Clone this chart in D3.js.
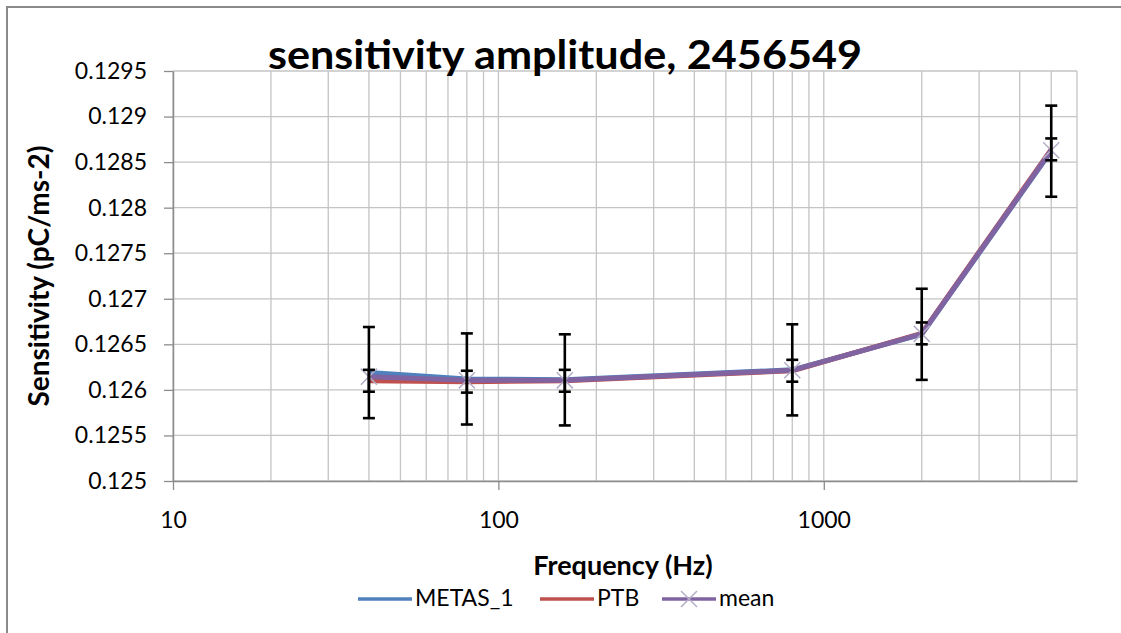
<!DOCTYPE html>
<html>
<head>
<meta charset="utf-8">
<script src="https://cdn.jsdelivr.net/npm/d3@7/dist/d3.min.js"></script>
<style>
  body { margin: 0; background: #fff; }
  svg text { font-family: Lato, "Open Sans", sans-serif; fill: #000; }
</style>
</head>
<body>
<div id="main"></div>
<script>
// data
var freqs = [40, 80, 160, 800, 2000, 5000];
var metas = [0.12619, 0.12612, 0.12611, 0.12622, 0.12661, 0.12862];
var ptb = [0.12610, 0.12609, 0.12610, 0.12621, 0.12662, 0.12864];
var mean = [0.126145, 0.126105, 0.126105, 0.126215, 0.126615, 0.12863];
var metasErr = [0.0005, 0.0005, 0.0005, 0.0005, 0.0005, 0.0005];
var ptbErr = [0.00012, 0.00012, 0.00012, 0.00012, 0.00012, 0.00012];
var yTicks = [0.125, 0.1255, 0.126, 0.1265, 0.127, 0.1275, 0.128, 0.1285, 0.129, 0.1295];
var xTicks = [10, 100, 1000];
var seriesNames = ["METAS_1", "PTB", "mean"];

var colors = ["#4F81BD", "#C0504D", "#8064A2"];

var W = 1121, H = 633;
var margin = { top: 71, right: 44, bottom: 152, left: 173 };

var x = d3.scaleLog()
  .domain([10, 6000])
  .range([margin.left, W - margin.right]);

var y = d3.scaleLinear()
  .domain([0.125, 0.1295])
  .range([H - margin.bottom, margin.top]);

var svg = d3.select("#main").append("svg")
  .attr("width", W)
  .attr("height", H);

// outer chart frame (runs off the right / bottom of the picture)
svg.append("rect")
  .attr("x", 7).attr("y", 7)
  .attr("width", W + 20).attr("height", H + 20)
  .attr("fill", "none")
  .attr("stroke", "#8a8a8a")
  .attr("stroke-width", 2);

// grid
svg.append("g")
  .selectAll("line")
  .data(x.ticks())
  .enter().append("line")
  .attr("x1", function (d) { return x(d); })
  .attr("x2", function (d) { return x(d); })
  .attr("y1", y(0.125))
  .attr("y2", y(0.1295))
  .attr("stroke", "#c4c4c4")
  .attr("stroke-width", 1.3);

svg.append("g")
  .selectAll("line")
  .data(yTicks)
  .enter().append("line")
  .attr("x1", x(10))
  .attr("x2", x(6000))
  .attr("y1", function (d) { return y(d); })
  .attr("y2", function (d) { return y(d); })
  .attr("stroke", "#c4c4c4")
  .attr("stroke-width", 1.3);

// axes
var yAxis = svg.append("g")
  .attr("transform", "translate(" + margin.left + ",0)")
  .call(d3.axisLeft(y)
    .tickValues(yTicks)
    .tickSize(9)
    .tickSizeOuter(0)
    .tickPadding(17)
    .tickFormat(function (d) { return String(d); }));

var xAxis = svg.append("g")
  .attr("transform", "translate(0," + y(0.125) + ")")
  .call(d3.axisBottom(x)
    .tickValues(xTicks)
    .tickSize(9)
    .tickSizeOuter(0)
    .tickPadding(22)
    .tickFormat(function (d) { return String(d); }));

[yAxis, xAxis].forEach(function (a) {
  a.select(".domain").attr("stroke", "#8c8c8c").attr("stroke-width", 1.5);
  a.selectAll(".tick line").attr("stroke", "#8c8c8c").attr("stroke-width", 1.3);
  a.selectAll(".tick text").style("font-size", "23px");
});

// lines
var line = d3.line()
  .x(function (d) { return x(d[0]); })
  .y(function (d) { return y(d[1]); });

[metas, ptb, mean].forEach(function (s, i) {
  svg.append("path")
    .datum(freqs.map(function (f, j) { return [f, s[j]]; }))
    .attr("fill", "none")
    .attr("stroke", colors[i])
    .attr("stroke-width", 5)
    .attr("stroke-linejoin", "round")
    .attr("d", line);
});

// mean markers
svg.append("g")
  .selectAll("path")
  .data(freqs)
  .enter().append("path")
  .attr("transform", function (d, j) { return "translate(" + x(d) + "," + y(mean[j]) + ")"; })
  .attr("d", d3.symbol(d3.symbolX, 170))
  .attr("fill", "none")
  .attr("stroke", "#b4aec8")
  .attr("stroke-width", 1.5);

// error bars, METAS_1 wide and PTB narrow
function errBars(vals, errs) {
  var g = svg.append("g").attr("stroke", "#000").attr("stroke-width", 2.6);
  freqs.forEach(function (f, j) {
    var cx = x(f), lo = y(vals[j] - errs[j]), hi = y(vals[j] + errs[j]);
    g.append("line").attr("x1", cx).attr("x2", cx).attr("y1", lo).attr("y2", hi);
    g.append("line").attr("x1", cx - 6).attr("x2", cx + 6).attr("y1", lo).attr("y2", lo);
    g.append("line").attr("x1", cx - 6).attr("x2", cx + 6).attr("y1", hi).attr("y2", hi);
  });
}
errBars(metas, metasErr);
errBars(ptb, ptbErr);

// titles
svg.append("text")
  .attr("x", 565)
  .attr("y", 69)
  .attr("text-anchor", "middle")
  .attr("textLength", 594)
  .attr("lengthAdjust", "spacingAndGlyphs")
  .style("font-size", "40px")
  .style("font-weight", "bold")
  .text("sensitivity amplitude, 2456549");

svg.append("text")
  .attr("transform", "translate(49," + (y(0.125) + y(0.1295)) / 2 + ") rotate(-90)")
  .attr("text-anchor", "middle")
  .style("font-size", "28px")
  .style("font-weight", "bold")
  .text("Sensitivity (pC/ms-2)");

svg.append("text")
  .attr("x", 623)
  .attr("y", 575)
  .attr("text-anchor", "middle")
  .style("font-size", "27px")
  .style("font-weight", "bold")
  .text("Frequency (Hz)");

// legend
var legendX = [358, 540, 662];
var legend = svg.append("g")
  .selectAll("g")
  .data(seriesNames)
  .enter().append("g")
  .attr("transform", function (d, i) { return "translate(" + legendX[i] + ",599)"; });

legend.append("line")
  .attr("x1", 0).attr("x2", 54)
  .attr("stroke", function (d, i) { return colors[i]; })
  .attr("stroke-width", 3.5);

legend.filter(function (d) { return d === "mean"; })
  .append("path")
  .attr("transform", "translate(27,0)")
  .attr("d", d3.symbol(d3.symbolX, 170))
  .attr("fill", "none")
  .attr("stroke", "#b4aec8")
  .attr("stroke-width", 1.5);

legend.append("text")
  .attr("x", 57)
  .attr("dy", "0.3em")
  .style("font-size", "23px")
  .text(function (d) { return d; });
</script>
</body>
</html>
